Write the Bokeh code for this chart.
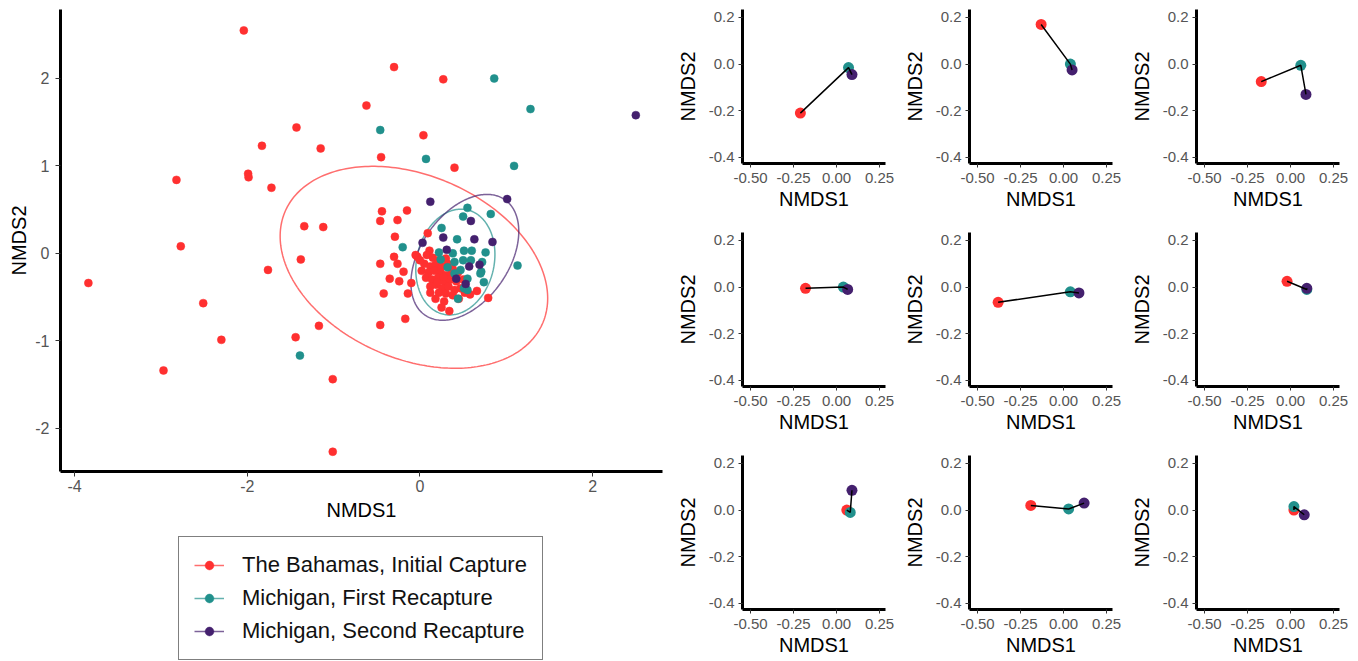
import numpy as np
from bokeh.plotting import figure
from bokeh.layouts import row, column
from bokeh.models import Legend, LegendItem, FixedTicker, NumeralTickFormatter, Range1d
from bokeh.embed import file_html
from bokeh.resources import INLINE

FONT = "Liberation Sans"
RED = "#FF3030"
TEAL = "#21908C"
PURPLE = "#44206E"

labels = ["The Bahamas, Initial Capture", "Michigan, First Recapture", "Michigan, Second Recapture"]

# ---- main NMDS scatter data ----
red_x = [-2.04, -1.43, -1.83, -1.15, -2.82, -1.99, -1.985, -1.72, -1.34, -1.12, -2.77, -3.84, -1.38, -1.76,
         -2.51, -1.17, -1.44, -2.30, -2.97, -1.01, -1.01,
         -0.30, 0.27, -0.62, 0.04, -0.45, 0.40,
         -0.44, -0.15, -0.46, -0.26, -0.29, 0.09,
         -0.46, -0.30, -0.26, -0.19, -0.35, -0.24, -0.10, -0.42, -0.14, -0.46, -0.17, 0.34, 0.79, 0.66,
         0.11, -0.03, -0.05,
         0.08, 0.15, 0.22, 0.30, 0.05, 0.12, 0.18, 0.25, 0.32, 0.38, 0.02, 0.10, 0.17, 0.24, 0.30, 0.36,
         0.44, 0.07, 0.14, 0.21, 0.28, 0.35, 0.42, 0.50, 0.12, 0.19, 0.26, 0.33, 0.40, 0.47, 0.22, 0.30,
         0.38, 0.52, 0.18, 0.28, 0.45, 0.58, 0.25, 0.12, 0.00, 0.20, 0.27]
red_y = [2.55, 1.44, 1.23, 1.20, 0.84, 0.91, 0.87, 0.75, 0.31, 0.30, 0.08, -0.34, -0.07, -0.19,
         -0.57, -0.83, -0.96, -0.99, -1.34, -1.44, -2.27,
         2.13, 1.99, 1.69, 1.35, 1.10, 0.98,
         0.48, 0.49, 0.37, 0.38, 0.19, 0.23,
         -0.12, -0.04, -0.12, -0.21, -0.29, -0.32, -0.34, -0.46, -0.46, -0.82, -0.75, -0.66, -0.51, -0.43,
         0.03, -0.04, -0.02,
         -0.02, -0.05, -0.08, -0.06, -0.12, -0.15, -0.13, -0.15, -0.12, -0.18, -0.20, -0.22, -0.20, -0.22,
         -0.25, -0.24, -0.22, -0.28, -0.30, -0.28, -0.32, -0.30, -0.32, -0.30, -0.38, -0.36, -0.40, -0.38,
         -0.42, -0.40, -0.45, -0.46, -0.48, -0.45, -0.52, -0.55, -0.52, -0.47, -0.62, -0.45, -0.08, -0.33, -0.27]

teal_x = [-1.39, 0.86, 1.28, -0.46, 0.07, 1.09, 0.55, 0.50, 0.82, 0.25, 0.43, -0.20, 0.22, 0.38, 0.51, 0.60,
          0.76, 0.24, 0.40, 0.50, 0.59, 0.72, 1.13, 0.47, 0.71, 0.74, 0.40, 0.55, 0.51, 0.55, 0.44, 0.32, 0.70]
teal_y = [-1.17, 2.00, 1.65, 1.41, 1.08, 1.00, 0.52, 0.42, 0.45, 0.29, 0.16, 0.07, 0.01, 0.00, 0.03, 0.03,
          0.01, -0.07, -0.10, -0.08, -0.08, -0.10, -0.14, -0.19, -0.21, -0.33, -0.23, -0.29, -0.40, -0.42, -0.52, -0.16, -0.23]

purple_x = [2.50, 0.12, 1.01, 0.59, 0.27, 0.63, 0.84, 0.03, 0.31, 0.69, 0.57, 0.42, 0.53]
purple_y = [1.58, 0.59, 0.62, 0.37, 0.18, 0.16, 0.13, 0.12, 0.04, -0.13, -0.15, -0.29, -0.35]

# ellipse parameters: centre (cx, cy) and covariance-like shape (sxx, syy, sxy)
ell_cx = [-0.07, 0.41, 0.52]
ell_cy = [-0.16, -0.10, -0.046]
ell_sxx = [2.40, 0.21, 0.39]
ell_syy = [1.334, 0.366, 0.518]
ell_sxy = [-0.55, 0.04, 0.185]

main_xticks = [-4, -2, 0, 2]
main_yticks = [-2, -1, 0, 1, 2]

# ---- individual trajectories (red -> teal -> purple) ----
panel_x = [[-0.21, 0.07, 0.09], [-0.13, 0.04, 0.05], [-0.17, 0.06, 0.09],
           [-0.18, 0.04, 0.065], [-0.38, 0.04, 0.09], [-0.02, 0.095, 0.095],
           [0.06, 0.08, 0.09], [-0.19, 0.03, 0.12], [0.02, 0.02, 0.08]]
panel_y = [[-0.21, -0.015, -0.045], [0.17, 0.0, -0.025], [-0.075, -0.005, -0.13],
           [-0.005, 0.0, -0.01], [-0.065, -0.02, -0.025], [0.025, -0.01, -0.005],
           [0.0, -0.01, 0.085], [0.02, 0.005, 0.03], [0.0, 0.015, -0.02]]
small_xticks = [-0.5, -0.25, 0.0, 0.25]
small_yticks = [-0.4, -0.2, 0.0, 0.2]

colors = [RED, TEAL, PURPLE]


def style_axes(f, tick_size, label_size, tick_out, x_std, x_lstd, y_std, y_lstd):
    for ax in (f.xaxis[0], f.yaxis[0]):
        ax.axis_line_width = 3
        ax.axis_line_color = "black"
        ax.major_tick_line_color = "#333333"
        ax.major_tick_line_width = 1
        ax.major_tick_in = 0
        ax.major_tick_out = tick_out
        ax.minor_tick_line_color = None
        ax.major_label_text_font = FONT
        ax.major_label_text_font_size = tick_size
        ax.major_label_text_color = "#555555"
        ax.axis_label_text_font = FONT
        ax.axis_label_text_font_size = label_size
        ax.axis_label_text_font_style = "normal"
        ax.axis_label_text_color = "black"
    f.xaxis[0].major_label_standoff = x_std
    f.xaxis[0].axis_label_standoff = x_lstd
    f.yaxis[0].major_label_standoff = y_std
    f.yaxis[0].axis_label_standoff = y_lstd
    f.xgrid.visible = False
    f.ygrid.visible = False
    f.outline_line_color = None


# ---- main figure ----
MAIN_LEFT = 60
p = figure(frame_width=602, frame_height=462, min_border_left=MAIN_LEFT, min_border_right=8,
           min_border_top=9, min_border_bottom=60,
           x_range=Range1d(-4.163, 2.809), y_range=Range1d(-2.496, 2.789),
           output_backend="svg", toolbar_location=None,
           x_axis_label="NMDS1", y_axis_label="NMDS2")
style_axes(p, "16px", "20px", 5, 3, 4, 6, 2)
p.xaxis.ticker = FixedTicker(ticks=main_xticks)
p.yaxis.ticker = FixedTicker(ticks=main_yticks)
p.xaxis.major_label_overrides = {v: str(v) for v in main_xticks}
p.yaxis.major_label_overrides = {v: str(v) for v in main_yticks}

t = np.linspace(0, 2 * np.pi, 240)
for i in range(3):
    l00 = np.sqrt(ell_sxx[i])
    l10 = ell_sxy[i] / l00
    l11 = np.sqrt(ell_syy[i] - l10 ** 2)
    ex = ell_cx[i] + l00 * np.cos(t)
    ey = ell_cy[i] + l10 * np.cos(t) + l11 * np.sin(t)
    p.line(ex, ey, line_color=colors[i], line_alpha=0.7, line_width=1.5)

for xs, ys, c in ((red_x, red_y, RED), (teal_x, teal_y, TEAL), (purple_x, purple_y, PURPLE)):
    p.scatter(xs, ys, size=8, fill_color=c, line_color=c, line_width=0.5)

# ---- legend (own strip below the main plot; its frame is aligned with the main frame) ----
pl = figure(width=670, height=130, min_border=0, x_range=Range1d(0, 1), y_range=Range1d(0, 1),
            output_backend="svg", toolbar_location=None, x_axis_location=None, y_axis_location=None)
pl.xgrid.visible = False
pl.ygrid.visible = False
pl.outline_line_color = None
items = []
for i in range(3):
    lr = pl.line([np.nan, np.nan], [np.nan, np.nan], line_color=colors[i], line_alpha=0.7, line_width=1.5)
    sr = pl.scatter([np.nan], [np.nan], size=8, fill_color=colors[i], line_color=colors[i], line_width=0.5)
    items.append(LegendItem(label=labels[i], renderers=[lr, sr]))
legend = Legend(items=items, location=(178 - MAIN_LEFT, 1), margin=0, padding=15, spacing=7,
                glyph_width=30, glyph_height=22, label_standoff=18,
                label_text_font=FONT, label_text_font_size="22px", label_text_color="#111111",
                border_line_color="black", border_line_width=1.5, background_fill_color="white")
pl.add_layout(legend)

# ---- small panels ----
small = []
for i in range(9):
    last = i >= 6
    f = figure(frame_width=143, frame_height=154, min_border_left=72, min_border_right=12,
               min_border_top=9, min_border_bottom=(52 if last else 60),
               x_range=Range1d(-0.5465, 0.285), y_range=Range1d(-0.426, 0.234),
               output_backend="svg", toolbar_location=None,
               x_axis_label="NMDS1", y_axis_label="NMDS2")
    style_axes(f, "15px", "20px", 4, 5, 2, 4, 7)
    f.xaxis.ticker = FixedTicker(ticks=small_xticks)
    f.yaxis.ticker = FixedTicker(ticks=small_yticks)
    f.xaxis.formatter = NumeralTickFormatter(format="0.00")
    f.yaxis.formatter = NumeralTickFormatter(format="0.0")
    for j in range(3):
        f.scatter([panel_x[i][j]], [panel_y[i][j]], size=11, fill_color=colors[j], line_color=None)
    f.line(panel_x[i], panel_y[i], line_color="black", line_width=1.5)
    small.append(f)

left = column(p, pl)
grid = column(row(small[0:3]), row(small[3:6]), row(small[6:9]))
layout = row(left, grid)

open("out.html", "w").write(file_html(layout, INLINE))
